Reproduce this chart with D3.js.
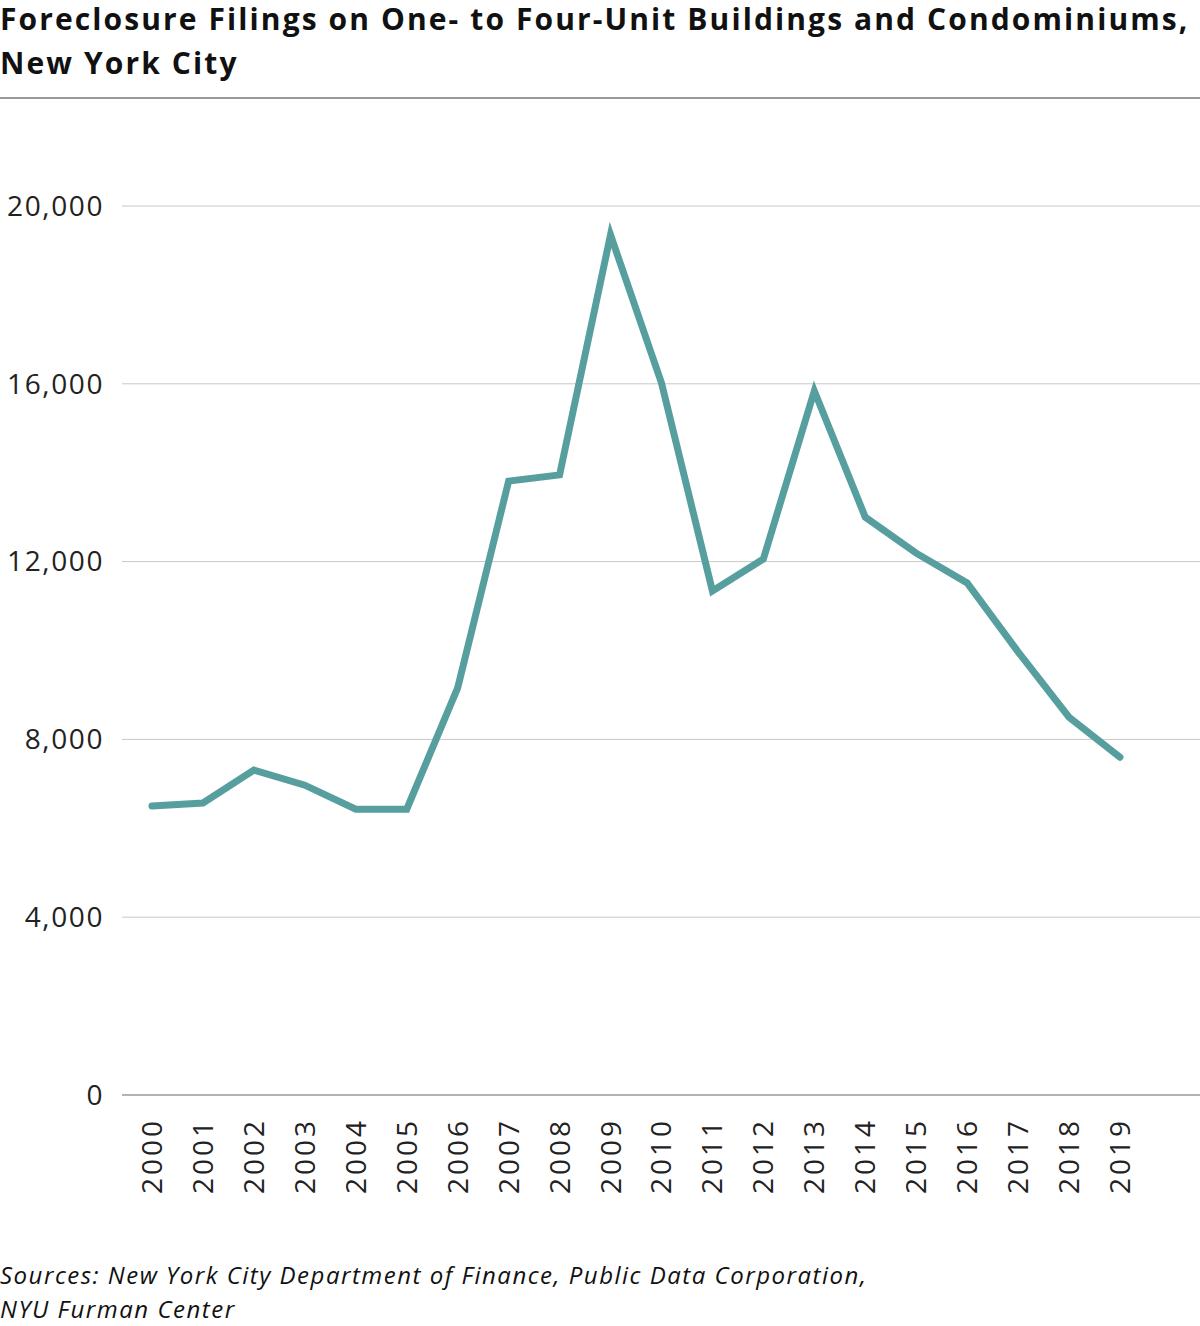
<!DOCTYPE html>
<html><head><meta charset="utf-8">
<script src="https://cdn.jsdelivr.net/npm/d3@7"></script>
<style>body{margin:0;background:#fff;font-family:"Open Sans",sans-serif;}</style>
</head><body>
<svg id="chart" width="1200" height="1326"></svg>
<script>
var years = [2000,2001,2002,2003,2004,2005,2006,2007,2008,2009,2010,2011,2012,2013,2014,2015,2016,2017,2018,2019];
var filings = [6500,6570,7310,6970,6430,6430,9160,13810,13950,19350,16020,11340,12060,15840,13000,12190,11520,9970,8500,7600];
var yTicks = [0,4000,8000,12000,16000,20000];

var svg = d3.select("#chart");

svg.append("text").attr("x", 0).attr("y", 30)
  .style("font-size", "30px").style("font-weight", "bold").style("fill", "#111")
  .style("letter-spacing", "2.1px")
  .text("Foreclosure Filings on One- to Four-Unit Buildings and Condominiums,");
svg.append("text").attr("x", 0).attr("y", 74)
  .style("font-size", "30px").style("font-weight", "bold").style("fill", "#111")
  .style("letter-spacing", "2.1px")
  .text("New York City");
svg.append("line").attr("x1", 0).attr("x2", 1200).attr("y1", 98).attr("y2", 98)
  .style("stroke", "#333").style("stroke-width", 1);

var x = d3.scaleLinear().domain([2000, 2019]).range([152, 1120]);
var y = d3.scaleLinear().domain([0, 20000]).range([1095, 206]);

var grid = svg.append("g");
yTicks.forEach(function (t) {
  grid.append("line").attr("x1", 122).attr("x2", 1200).attr("y1", y(t)).attr("y2", y(t))
    .style("stroke", t === 0 ? "#666" : "#c8c8c8").style("stroke-width", 1);
  grid.append("text").attr("x", 104).attr("y", y(t)).attr("dy", "0.35em")
    .attr("text-anchor", "end").style("font-size", "28px").style("fill", "#222")
    .style("letter-spacing", "1.6px")
    .text(d3.format(",")(t));
});

years.forEach(function (yr) {
  svg.append("text")
    .attr("transform", "translate(" + (x(yr) + 10) + ",1118) rotate(-90)")
    .attr("text-anchor", "end").style("font-size", "28px").style("fill", "#222")
    .style("letter-spacing", "3px")
    .text(yr);
});

var line = d3.line().x(function (d, i) { return x(years[i]); }).y(function (d) { return y(d); });
svg.append("path").datum(filings).attr("d", line)
  .style("fill", "none").style("stroke", "#579f9e").style("stroke-width", 7)
  .style("stroke-linejoin", "miter").style("stroke-linecap", "round");

svg.append("text").attr("x", 0).attr("y", 1284)
  .style("font-size", "24px").style("font-style", "italic").style("fill", "#111")
  .style("letter-spacing", "1.5px")
  .text("Sources: New York City Department of Finance, Public Data Corporation,");
svg.append("text").attr("x", 0).attr("y", 1318)
  .style("font-size", "24px").style("font-style", "italic").style("fill", "#111")
  .style("letter-spacing", "1.5px")
  .text("NYU Furman Center");
</script>
</body></html>
